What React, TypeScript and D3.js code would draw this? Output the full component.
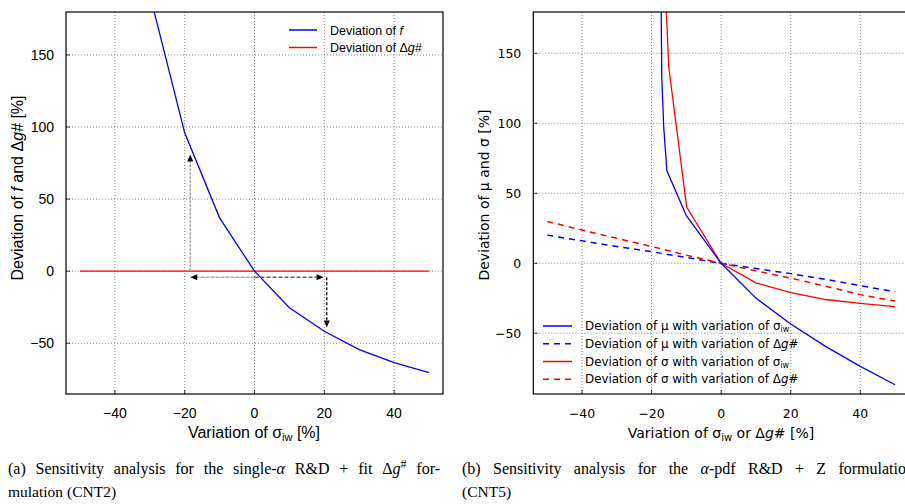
import React, { useLayoutEffect, useRef } from "react";
import * as d3 from "d3";

// ---- data ----
const xTicks = [-40, -20, 0, 20, 40];
const yTicks = [-50, 0, 50, 100, 150];

// Panel (a)
const aX = [-30, -20, -10, 0, 10, 20, 30, 40, 50];
const aDevF = [192, 96, 37, 0, -25.4, -41.7, -54.4, -63.4, -70.4];
const aDgX = [-50, 50];
const aDevDg = [0, 0];
// annotation arrows [x1, y1, x2, y2] in data units
const arrowGrayV = [-18.4, 0, -18.4, 81];
const arrowGrayH = [0, -4.2, -18.4, -4.2];
const arrowDarkH = [0, -4.2, 19.8, -4.2];
const arrowBlackV = [20.7, -4.2, 20.7, -39];

// Panel (b)
const bMuSigX = [-17.3, -17.07, -16.5, -15.6, -10, 0, 10, 20, 30, 40, 50];
const bMuSig = [200, 133, 97, 66, 34, 0, -24.9, -43.4, -59.4, -73.7, -86.8];
const bSigSigX = [-16.1, -15.06, -9.9, 0, 10, 20, 30, 40, 50];
const bSigSig = [200, 140, 40, 0, -14, -21, -25.9, -28.7, -31];
const bDgX = [-50, -40, -30, -20, -10, 0, 10, 20, 30, 40, 50];
const bMuDg = [20.1, 16, 12, 8.3, 4.1, 0, -3.8, -7.4, -11.5, -16, -20.4];
const bSigDg = [29.9, 23.7, 17.8, 12, 5.8, 0, -5.4, -10.6, -16.4, -22.4, -27];

const BLUE = "#0000ff";
const RED = "#ff0000";

type Pt = [number, number];
const zip = (xs: number[], ys: number[]): Pt[] => xs.map((x, i) => [x, ys[i]]);

function Grid({ x, y, font, fs, tickDx }: any) {
  const [x0, x1] = x.range();
  const [y1, y0] = y.range();
  return (
    <g>
      {xTicks.map((t) => (
        <g key={"gx" + t}>
          <line x1={x(t)} x2={x(t)} y1={y0} y2={y1} stroke="#666" strokeWidth={0.8} strokeDasharray="1,2" />
          <line x1={x(t)} x2={x(t)} y1={y1} y2={y1 - 4} stroke="#000" strokeWidth={0.8} />
          <text x={x(t)} y={418} textAnchor="middle" fontFamily={font} fontSize={fs}>
            {t < 0 ? "\u2212" + Math.abs(t) : t}
          </text>
        </g>
      ))}
      {yTicks.map((t) => (
        <g key={"gy" + t}>
          <line x1={x0} x2={x1} y1={y(t)} y2={y(t)} stroke="#666" strokeWidth={0.8} strokeDasharray="1,2" />
          <line x1={x0} x2={x0 + 4} y1={y(t)} y2={y(t)} stroke="#000" strokeWidth={0.8} />
          <text x={x0 - tickDx} y={y(t) + fs * 0.36} textAnchor="end" fontFamily={font} fontSize={fs}>
            {t < 0 ? "\u2212" + Math.abs(t) : t}
          </text>
        </g>
      ))}
    </g>
  );
}

function Arrow({ a, x, y, color, dash }: any) {
  const [dx1, dy1, dx2, dy2] = a;
  const X1 = x(dx1), Y1 = y(dy1), X2 = x(dx2), Y2 = y(dy2);
  const ang = Math.atan2(Y2 - Y1, X2 - X1);
  const L = 7, W = 3;
  const bx = X2 - L * Math.cos(ang), by = Y2 - L * Math.sin(ang);
  const px = -Math.sin(ang) * W, py = Math.cos(ang) * W;
  return (
    <g>
      <line x1={X1} y1={Y1} x2={bx} y2={by} stroke={color} strokeWidth={1.3} strokeDasharray={dash} />
      <path d={`M${X2},${Y2}L${bx + px},${by + py}L${bx - px},${by - py}Z`} fill="#000" />
    </g>
  );
}

export default function App() {
  const capA = useRef<SVGTextElement>(null);
  const capB = useRef<SVGTextElement>(null);

  useLayoutEffect(() => {
    const justify = (el: SVGTextElement | null, target: number) => {
      if (!el) return;
      el.setAttribute("word-spacing", "0");
      const w = el.getComputedTextLength();
      const n = (el.textContent || "").split(" ").length - 1;
      if (n > 0) el.setAttribute("word-spacing", String(Math.max(0, (target - w) / n)));
    };
    justify(capA.current, 432);
    justify(capB.current, 452);
  }, []);

  // panel (a)
  const xa = d3.scaleLinear().domain([-54, 54]).range([66, 443]);
  const ya = d3.scaleLinear().domain([-85.2, 179.8]).range([394, 12]);
  const la = d3.line<Pt>().x((d) => xa(d[0])).y((d) => ya(d[1]));
  // panel (b)
  const xb = d3.scaleLinear().domain([-54, 54]).range([533.3, 909]);
  const yb = d3.scaleLinear().domain([-93.4, 179.5]).range([394, 12]);
  const lb = d3.line<Pt>().x((d) => xb(d[0])).y((d) => yb(d[1]));

  const fa = "Liberation Sans, Arial, Helvetica, sans-serif";
  const fb = "DejaVu Sans, sans-serif";
  const fs = "Liberation Serif, Times New Roman, serif";

  const bLegend = [
    { c: BLUE, dash: undefined, sym: "\u03bc", v: "s" },
    { c: BLUE, dash: "6,5", sym: "\u03bc", v: "g" },
    { c: RED, dash: undefined, sym: "\u03c3", v: "s" },
    { c: RED, dash: "6,5", sym: "\u03c3", v: "g" },
  ];
  const bRows = [326, 343.7, 361.5, 379.2];

  return (
    <svg width={905} height={504} style={{ position: "absolute", left: 0, top: 0, background: "#fff" }}>
      <defs>
        <clipPath id="ca"><rect x={66} y={12} width={377} height={382} /></clipPath>
        <clipPath id="cb"><rect x={533.3} y={12} width={375.7} height={382} /></clipPath>
      </defs>
      <rect x={0} y={0} width={905} height={504} fill="#fff" />

      {/* ---------- Panel (a) ---------- */}
      <Grid x={xa} y={ya} font={fa} fs={14} tickDx={12} />
      <g clipPath="url(#ca)">
        <path d={la(zip(aDgX, aDevDg)) || ""} fill="none" stroke={RED} strokeWidth={1.3} />
        <path d={la(zip(aX, aDevF)) || ""} fill="none" stroke={BLUE} strokeWidth={1.3} />
        <Arrow a={arrowGrayV} x={xa} y={ya} color="#999" dash="3,1" />
        <Arrow a={arrowGrayH} x={xa} y={ya} color="#aaa" dash="4,1" />
        <Arrow a={arrowDarkH} x={xa} y={ya} color="#666" dash="4,2" />
        <Arrow a={arrowBlackV} x={xa} y={ya} color="#000" dash="3,2" />
      </g>
      <rect x={66} y={12} width={377} height={382} fill="none" stroke="#000" strokeWidth={1.2} />
      {/* legend a */}
      <line x1={289} x2={317} y1={30} y2={30} stroke={BLUE} strokeWidth={1.5} />
      <line x1={289} x2={317} y1={47.5} y2={47.5} stroke={RED} strokeWidth={1.5} />
      <text x={330} y={35} fontFamily={fa} fontSize={12.5}>
        Deviation of <tspan fontStyle="italic">f</tspan>
      </text>
      <text x={330} y={52} fontFamily={fa} fontSize={12.5}>
        Deviation of Δ<tspan fontStyle="italic">g#</tspan>
      </text>
      {/* axis labels a */}
      <text x={254} y={438} textAnchor="middle" fontFamily={fa} fontSize={16}>
        Variation of σ<tspan fontSize={11} dy={3}>iw</tspan><tspan dy={-3}> [%]</tspan>
      </text>
      <text transform="translate(23,188) rotate(-90)" textAnchor="middle" fontFamily={fa} fontSize={16}>
        Deviation of <tspan fontStyle="italic">f</tspan> and Δ<tspan fontStyle="italic">g#</tspan> [%]
      </text>

      {/* ---------- Panel (b) ---------- */}
      <Grid x={xb} y={yb} font={fb} fs={12.5} tickDx={12} />
      <g clipPath="url(#cb)">
        <path d={lb(zip(bDgX, bMuDg)) || ""} fill="none" stroke={BLUE} strokeWidth={1.5} strokeDasharray="6,5" />
        <path d={lb(zip(bDgX, bSigDg)) || ""} fill="none" stroke={RED} strokeWidth={1.5} strokeDasharray="6,5" />
        <path d={lb(zip(bSigSigX, bSigSig)) || ""} fill="none" stroke={RED} strokeWidth={1.3} />
        <path d={lb(zip(bMuSigX, bMuSig)) || ""} fill="none" stroke={BLUE} strokeWidth={1.3} />
      </g>
      <rect x={533.3} y={12} width={375.7} height={382} fill="none" stroke="#000" strokeWidth={1.2} />
      {/* legend b */}
      {bLegend.map((d, i) => (
        <g key={"lb" + i}>
          <line x1={543} x2={572} y1={bRows[i]} y2={bRows[i]} stroke={d.c} strokeWidth={1.5} strokeDasharray={d.dash} />
          <text x={585} y={bRows[i] + 4} fontFamily={fb} fontSize={11.9}>
            Deviation of {d.sym} with variation of{" "}
            {d.v === "s" ? (
              <>σ<tspan fontSize={8} dy={2}>iw</tspan></>
            ) : (
              <>Δ<tspan fontStyle="italic">g</tspan>#</>
            )}
          </text>
        </g>
      ))}
      {/* axis labels b */}
      <text x={721} y={438} textAnchor="middle" fontFamily={fb} fontSize={14}>
        Variation of σ<tspan fontSize={10} dy={3}>iw</tspan><tspan dy={-3}> or Δ</tspan><tspan fontStyle="italic">g</tspan># [%]
      </text>
      <text transform="translate(489,195) rotate(-90)" textAnchor="middle" fontFamily={fb} fontSize={14}>
        Deviation of μ and σ [%]
      </text>

      {/* ---------- Captions ---------- */}
      <text ref={capA} x={8} y={474} fontFamily={fs} fontSize={16}>
        (a) Sensitivity analysis for the single-<tspan fontStyle="italic">α</tspan> R&amp;D + fit Δ<tspan fontStyle="italic">g</tspan><tspan fontSize={12} dy={-6}>#</tspan><tspan dy={6}> for-</tspan>
      </text>
      <text x={8} y={497} fontFamily={fs} fontSize={15.5}>mulation (CNT2)</text>
      <text ref={capB} x={462} y={474} fontFamily={fs} fontSize={16}>
        (b) Sensitivity analysis for the <tspan fontStyle="italic">α</tspan>-pdf R&amp;D + Z formulation
      </text>
      <text x={462} y={497} fontFamily={fs} fontSize={15.5}>(CNT5)</text>
    </svg>
  );
}
